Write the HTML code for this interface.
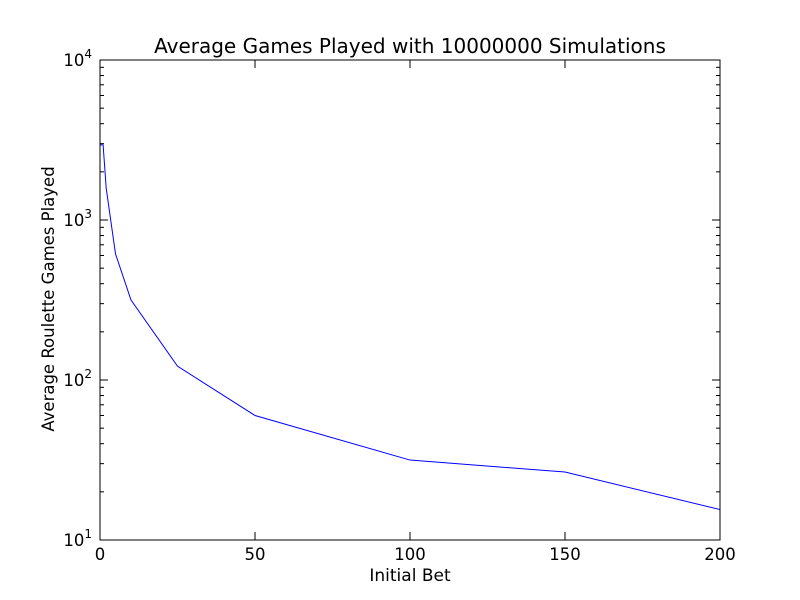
<!DOCTYPE html>
<html><head><meta charset="utf-8"><style>
html,body{margin:0;padding:0;background:#fff;}
svg{display:block;font-family:"DejaVu Sans","Liberation Sans",sans-serif;}
</style></head><body>
<svg id="chart" width="800" height="600" viewBox="0 0 800 600" xmlns="http://www.w3.org/2000/svg">
<rect width="800" height="600" fill="#fff"/>
<text x="410" y="53" font-size="20" text-anchor="middle">Average Games Played with 10000000 Simulations</text>
<text x="410" y="581" font-size="17" text-anchor="middle">Initial Bet</text>
<text transform="translate(54,299) rotate(-90)" font-size="16.5" text-anchor="middle">Average Roulette Games Played</text>
<g id="ticks"></g>
<path id="line" fill="none" stroke="#0000ff" stroke-width="1"/>
<rect x="100" y="60" width="620" height="480" fill="none" stroke="#000" stroke-width="1"/>
</svg>
<script>
const xValues = [0, 1, 2, 5, 10, 25, 50, 100, 150, 200];
const yValues = [2950, 2950, 1580, 614, 316, 122, 60, 31.6, 26.6, 15.5];
const xTicks = [0, 50, 100, 150, 200];
const yTickExps = [1, 2, 3, 4];

const L=100,R=720,T=60,B=540;
const xs=v=>L+(v-0)/(200-0)*(R-L);
const ys=v=>B-(Math.log10(v)-1)/3*(B-T);
const NS="http://www.w3.org/2000/svg";
const g=document.getElementById('ticks');
function ln(x1,y1,x2,y2){const l=document.createElementNS(NS,'line');l.setAttribute('x1',x1);l.setAttribute('y1',y1);l.setAttribute('x2',x2);l.setAttribute('y2',y2);l.setAttribute('stroke','#000');


g.appendChild(l);}
xTicks.forEach(v=>{const x=xs(v);ln(x,B,x,B-8);ln(x,T,x,T+8);
const t=document.createElementNS(NS,'text');t.setAttribute('x',x);t.setAttribute('y',B+20);t.setAttribute('font-size','16.5');t.setAttribute('text-anchor','middle');t.textContent=v;


g.appendChild(t);});
yTickExps.forEach(e=>{const y=ys(Math.pow(10,e));ln(L,y,L+8,y);ln(R,y,R-8,y);
const t=document.createElementNS(NS,'text');t.setAttribute('x',L-8);t.setAttribute('y',y+6);t.setAttribute('font-size','16.5');t.setAttribute('text-anchor','end');
t.innerHTML='10<tspan font-size="12" dy="-8">'+e+'</tspan>';


g.appendChild(t);
if(e<4){for(let m=2;m<=9;m++){const yy=ys(m*Math.pow(10,e));ln(L,yy,L+4,yy);ln(R,yy,R-4,yy);}}});
let d='';xValues.forEach((v,i)=>{d+=(i?'L':'M')+xs(v).toFixed(2)+','+ys(yValues[i]).toFixed(2);});
document.getElementById('line').setAttribute('d',d);
</script>
</body></html>
